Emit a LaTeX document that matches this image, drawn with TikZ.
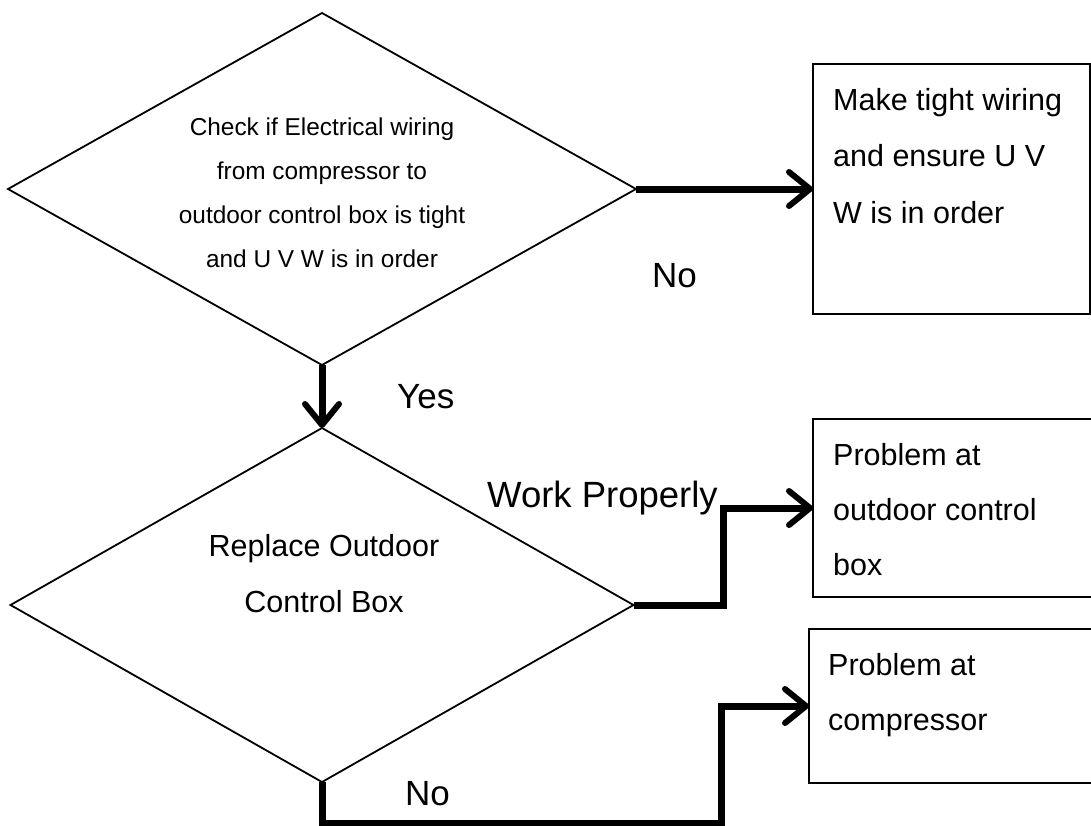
\documentclass[tikz,border=0pt]{standalone}
\usepackage{fontspec}
\setmainfont{Liberation Sans}
\usetikzlibrary{shapes.geometric,arrows.meta}
\tikzset{
  decision/.style={diamond, draw, line width=1.8pt, inner sep=0pt, outer sep=0pt},
  outcome/.style={rectangle, draw, line width=2.4pt, inner sep=0pt, outer sep=0pt},
  dtext/.style={align=center, inner sep=0pt},
  btext/.style={align=left, inner sep=0pt, anchor=north west},
  lbl/.style={anchor=base west, inner sep=0pt, font=\fontsize{35}{40}\selectfont},
  arr/.style={line width=7pt, -{Straight Barb[length=21pt,width=34pt,line width=6pt,round]}},
}
\begin{document}
\begin{tikzpicture}[x=1pt,y=-1pt]
\useasboundingbox (0,0) rectangle (1091,825);
% decisions
\node[decision, minimum width=628pt, minimum height=352pt] (d1) at (322,189) {};
\node[dtext, font=\fontsize{24.4}{44}\selectfont] (t1) at (322,193)
  {Check if Electrical wiring\\from compressor to\\outdoor control box is tight\\and U V W is in order};
\node[decision, minimum width=623pt, minimum height=354pt] (d2) at (322,605) {};
\node[dtext, font=\fontsize{30.5}{56}\selectfont] (t2) at (324,574)
  {Replace Outdoor\\Control Box};
% outcomes
\node[outcome, minimum width=277pt, minimum height=250pt] (b1) at (951.5,189) {};
\node[btext, font=\fontsize{30.5}{56.5}\selectfont] (tb1) at (833,88)
  {Make tight wiring\\and ensure U V\\W is in order};
\node[outcome, minimum width=282pt, minimum height=178pt] (b2) at (954,508) {};
\node[btext, font=\fontsize{30.5}{55}\selectfont] (tb2) at (833,443)
  {Problem at\\outdoor control\\box};
\node[outcome, minimum width=286pt, minimum height=154pt] (b3) at (952,706) {};
\node[btext, font=\fontsize{30.5}{55}\selectfont] (tb3) at (828,653)
  {Problem at\\compressor};
% connectors
\draw[arr] (d1.east) -- (b1.west);
\draw[arr] (d1.south) -- (d2.north);
\draw[arr] (d2.east) -- ++(90,0) |- (b2.west);
\draw[arr] (d2.south) -- ++(0,41) -- ++(399,0) |- (b3.west);
% labels
\node[lbl] (lno1) at (652,287) {No};
\node[lbl] (lyes) at (397,408) {Yes};
\node[lbl, font=\fontsize{36.5}{40}\selectfont] (lwork) at (487,507) {Work Properly};
\node[lbl] (lno2) at (405,805) {No};
\end{tikzpicture}
\end{document}
